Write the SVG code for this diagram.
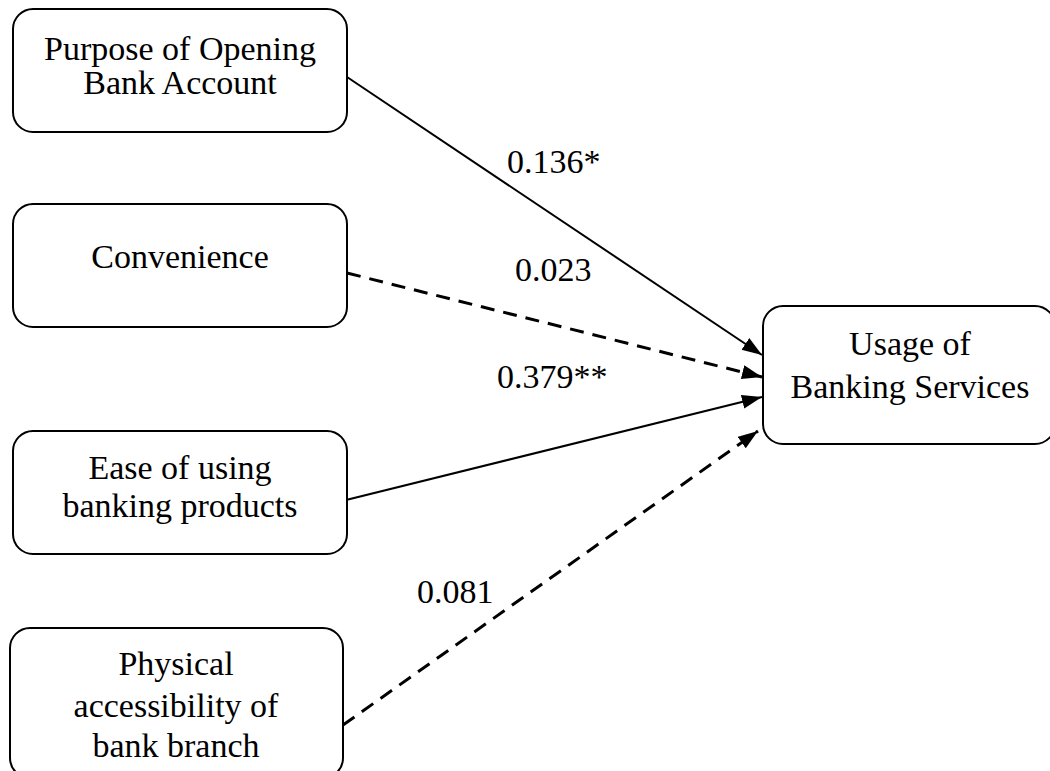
<svg xmlns="http://www.w3.org/2000/svg" width="1050" height="771" viewBox="0 0 1050 771">
<style>
.box{fill:#fff;stroke:#000;stroke-width:2}
.t{font-family:"Liberation Serif","Times New Roman",serif;font-size:34px;fill:#000}
.c{text-anchor:middle}
.solid{fill:none;stroke:#000;stroke-width:2}
.dash{fill:none;stroke:#000;stroke-width:3;stroke-dasharray:14 9}
</style>
<defs>
<marker id="ah" markerUnits="userSpaceOnUse" markerWidth="22" markerHeight="16" refX="20" refY="7" orient="auto">
<path d="M0,0 L20,7 L0,14 z" fill="#000"/>
</marker>
</defs>
<rect width="1050" height="771" fill="#fff"/>
<g id="connectors">
<line class="solid" x1="347" y1="77" x2="762" y2="355" marker-end="url(#ah)"/>
<line class="dash" x1="347" y1="273" x2="762" y2="377" marker-end="url(#ah)"/>
<line class="solid" x1="346" y1="500" x2="762" y2="397" marker-end="url(#ah)"/>
<line class="dash" x1="343" y1="725" x2="758" y2="431" marker-end="url(#ah)"/>
<text class="t" x="507" y="173">0.136*</text>
<text class="t" x="515" y="281">0.023</text>
<text class="t" x="497" y="388">0.379**</text>
<text class="t" x="417" y="603">0.081</text>
</g>
<g id="purpose">
<rect class="box" x="13" y="9" width="334" height="123" rx="20"/>
<text class="t c" x="180" y="60">Purpose of Opening</text>
<text class="t c" x="180" y="94">Bank Account</text>
</g>
<g id="convenience">
<rect class="box" x="13" y="204" width="334" height="123" rx="20"/>
<text class="t c" x="180" y="268">Convenience</text>
</g>
<g id="ease">
<rect class="box" x="13" y="431" width="334" height="123" rx="20"/>
<text class="t c" x="180" y="479">Ease of using</text>
<text class="t c" x="180" y="517">banking products</text>
</g>
<g id="physical">
<rect class="box" x="10" y="628" width="333" height="150" rx="20"/>
<text class="t c" x="176" y="675">Physical</text>
<text class="t c" x="176" y="717">accessibility of</text>
<text class="t c" x="176" y="757">bank branch</text>
</g>
<g id="usage">
<rect class="box" x="763" y="306" width="292" height="138" rx="20"/>
<text class="t c" x="910" y="355">Usage of</text>
<text class="t c" x="910" y="398">Banking Services</text>
</g>
</svg>
